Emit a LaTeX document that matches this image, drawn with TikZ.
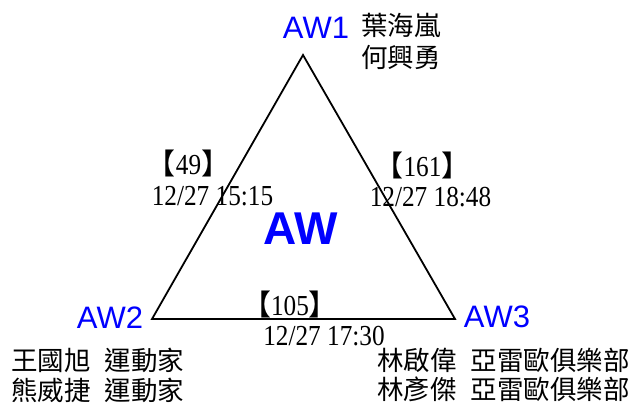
\documentclass[tikz,border=0pt]{standalone}
\usepackage{fontspec}
\setmainfont{Liberation Serif}
\newfontfamily\cjk{Noto Sans CJK TC}
\newfontfamily\arialf{Liberation Sans}
\newfontfamily\numf[FakeStretch=0.87]{Liberation Serif}
\begin{document}
\begin{tikzpicture}[x=1pt,y=-1pt]
\tikzset{
  vlabel/.style={text=blue, font=\arialf\fontsize{31}{31}\selectfont, inner sep=0pt, anchor=base},
  biglabel/.style={text=blue, font=\arialf\bfseries\fontsize{46}{46}\selectfont, inner sep=0pt, anchor=base},
  elabel/.style={font=\numf\fontsize{29}{29}\selectfont, inner sep=0pt, anchor=base},
  nameL/.style={font=\cjk\fontsize{26.5}{30}\selectfont, inner sep=0pt, anchor=base west},
  nameR/.style={font=\cjk\fontsize{26.5}{30}\selectfont, inner sep=0pt, anchor=base east},
  tri/.style={line width=1.8pt, line join=miter}
}
\useasboundingbox (0,0) rectangle (634,403);
\coordinate (t) at (303,55);
\coordinate (l) at (152,319);
\coordinate (r) at (455,319);
\draw[tri] (t) -- (l) -- (r) -- cycle;
% vertex labels
\node[vlabel] (aw1) at (316,39) {AW1};
\node[vlabel] (aw2) at (110,328) {AW2};
\node[vlabel] (aw3) at (497,327) {AW3};
\node[biglabel] (aw) at (300.5,245) {AW};
% edge labels
\node[elabel] (c49) at (188.5,175) {{\cjk 【}49{\cjk 】}};
\node[elabel] (d49) at (212.5,206) {12/27 15:15};
\node[elabel] (c161) at (422.5,176.5) {{\cjk 【}161{\cjk 】}};
\node[elabel] (d161) at (430.5,206.5) {12/27 18:48};
\node[elabel] (c105) at (290,315) {{\cjk 【}105{\cjk 】}};
\node[elabel] (d105) at (324,345) {12/27 17:30};
% names
\node[nameL] (n1a) at (361,36) {葉海嵐};
\node[nameL] (n1b) at (361,67.5) {何興勇};
\node[nameL] (n2a) at (11,370) {王國旭\hspace{14pt}運動家};
\node[nameL] (n2b) at (11,400) {熊威捷\hspace{14pt}運動家};
\node[nameR] (n3a) at (630,370) {林啟偉\hspace{14pt}亞雷歐俱樂部};
\node[nameR] (n3b) at (630,399) {林彥傑\hspace{14pt}亞雷歐俱樂部};
\end{tikzpicture}
\end{document}
